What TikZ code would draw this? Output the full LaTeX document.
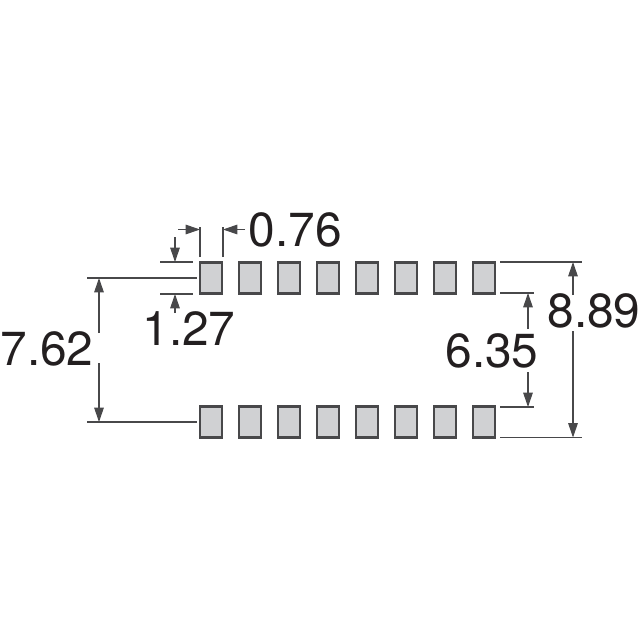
\documentclass[tikz,border=0pt]{standalone}
\usepackage{fontspec}
\setmainfont{TeX Gyre Heros}
\usetikzlibrary{arrows.meta}
\definecolor{padgray}{RGB}{208,209,211}
\definecolor{edgegray}{RGB}{72,72,74}
\definecolor{linegray}{RGB}{72,72,74}
\definecolor{textblack}{RGB}{35,31,32}
\tikzset{
  padbox/.style={draw=edgegray,fill=padgray,line width=1.5pt,minimum width=0.55cm,minimum height=0.775cm,inner sep=0pt,outer sep=0pt},
  extline/.style={draw=linegray,line width=0.75pt},
  dimarrow/.style={draw=linegray,line width=0.75pt,-{Triangle[length=0.36cm,width=0.24cm]}},
  dimlabel/.style={text=textblack,font=\fontsize{34}{34}\selectfont,inner sep=0pt}
}

\begin{document}
\begin{tikzpicture}[x=0.025cm,y=-0.025cm]
\useasboundingbox (0,0) rectangle (640,640);
% Draw the two rows of pads
\foreach \i in {1,...,8} {
  \node[padbox] (top\i) at ({211+39*(\i-1)},278) {};
  \node[padbox] (bot\i) at ({211+39*(\i-1)},422) {};
}
% Add the labels
\node[dimlabel] (pitch) at (295.5,230) {0.76};
\node[dimlabel] (width) at (189,329) {1.27};
\node[dimlabel] (inner) at (47,349) {7.62};
\node[dimlabel] (gap) at (492,351) {6.35};
\node[dimlabel] (outer) at (594,311) {8.89};
% Ends of the extension lines
\coordinate (wl) at (200,257);
\coordinate (wlt) at (200,227);
\coordinate (wr) at (223,257);
\coordinate (wrt) at (223,227);
\coordinate (ht) at (160,262);
\coordinate (hte) at (193,262);
\coordinate (hb) at (160,294);
\coordinate (hbe) at (193,294);
\coordinate (rowta) at (87,278);
\coordinate (rowte) at (197,278);
\coordinate (rowba) at (87,422);
\coordinate (rowbe) at (197,422);
\coordinate (ota) at (500,262);
\coordinate (ote) at (582,262);
\coordinate (oba) at (500,437.5);
\coordinate (obe) at (582,437.5);
\coordinate (ita) at (500,293);
\coordinate (ite) at (534,293);
\coordinate (iba) at (500,407);
\coordinate (ibe) at (534,407);
% Draw the extension lines
\draw[extline] (wl) -- (wlt);
\draw[extline] (wr) -- (wrt);
\draw[extline] (ht) -- (hte);
\draw[extline] (hb) -- (hbe);
\draw[extline] (rowta) -- (rowte);
\draw[extline] (rowba) -- (rowbe);
\draw[extline] (ota) -- (ote);
\draw[extline] (oba) -- (obe);
\draw[extline] (ita) -- (ite);
\draw[extline] (iba) -- (ibe);
% Draw the arrows
\coordinate (a1) at (178,229.5);
\coordinate (a1e) at (200,229.5);
\coordinate (a2) at (245,229.5);
\coordinate (a2e) at (223,229.5);
\coordinate (a3) at (175,237);
\coordinate (a3e) at (175,262);
\coordinate (a4) at (175,313);
\coordinate (a4e) at (175,294);
\coordinate (a5) at (99,333);
\coordinate (a5e) at (99,278);
\coordinate (a6) at (99,363);
\coordinate (a6e) at (99,422);
\coordinate (a7) at (528,329);
\coordinate (a7e) at (528,293);
\coordinate (a8) at (528,372);
\coordinate (a8e) at (528,407);
\coordinate (a9) at (573,295);
\coordinate (a9e) at (573,262);
\coordinate (a10) at (573,331);
\coordinate (a10e) at (573,437.5);
\foreach \k in {1,...,10} {
  \draw[dimarrow] (a\k) -- (a\k e);
}
\end{tikzpicture}
\end{document}
